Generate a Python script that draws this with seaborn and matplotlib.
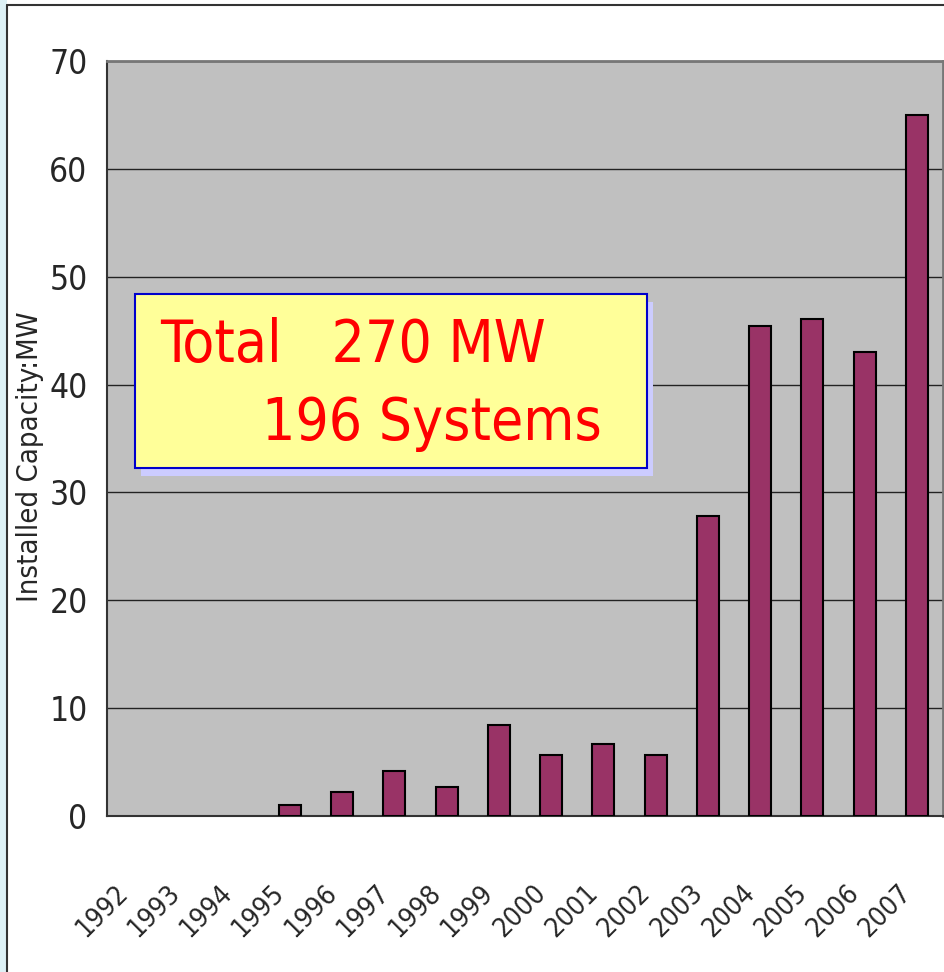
import numpy as np
import pandas as pd
import seaborn as sns
import matplotlib.pyplot as plt
from matplotlib.patches import Rectangle
from matplotlib.lines import Line2D

# data
years = ["1992", "1993", "1994", "1995", "1996", "1997", "1998", "1999",
         "2000", "2001", "2002", "2003", "2004", "2005", "2006", "2007"]
capacity_mw = [0, 0, 0, 1.0, 2.2, 4.2, 2.7, 8.4,
               5.7, 6.7, 5.7, 27.8, 45.4, 46.1, 43.0, 65.0]
y_ticks = [0, 10, 20, 30, 40, 50, 60, 70]
box_line1 = "Total   270 MW"
box_line2 = "196 Systems"
y_label = "Installed Capacity:MW"

df = pd.DataFrame({"year": years, "mw": capacity_mw})

sns.set_style("white")
plt.rcParams['font.family'] = ['DejaVu Sans']
plt.rcParams['font.stretch'] = 'condensed'

fig = plt.figure(figsize=(9.44, 9.72), dpi=100)
ax = fig.add_axes([107 / 944, 1 - 816 / 972, 836 / 944, 755 / 972])
ax.set_facecolor("#C0C0C0")

sns.barplot(data=df, x="year", y="mw", color="#993366", width=0.42,
            edgecolor="black", linewidth=1.5, saturation=1, ax=ax, zorder=3)
# empty years draw nothing in the original
for p in ax.patches:
    if p.get_height() == 0:
        p.set_visible(False)

ax.set_ylim(0, 70)
ax.set_xlim(-0.5, len(years) - 0.5)
ax.set_yticks(y_ticks)
ax.set_yticklabels([str(t) for t in y_ticks], fontsize=24)
ax.yaxis.grid(True, color="#222222", linewidth=1.0)
ax.set_axisbelow(True)
ax.set_xlabel("")
ax.set_ylabel("")

ax.set_xticks(range(len(years)))
ax.set_xticklabels(years, rotation=45, ha="right", fontsize=19.5)
ax.set_xticks(np.arange(0.5, len(years) - 0.5, 1), minor=True)
ax.tick_params(axis="x", which="major", length=0, pad=46)
ax.tick_params(axis="x", which="minor", direction="in", length=9, width=1, color="#333333")
ax.tick_params(axis="y", direction="in", length=6, width=1, color="#333333", pad=14)

for side in ["left", "bottom"]:
    ax.spines[side].set_color("#333333")
    ax.spines[side].set_linewidth(1.5)
for side in ["top", "right"]:
    ax.spines[side].set_color("#777777")
    ax.spines[side].set_linewidth(2)

fig.text(30 / 944, 1 - 457 / 972, y_label, rotation=90, ha="center", va="center",
         fontsize=21)

# annotation box with shadow
fig.patches.append(Rectangle((141 / 944, 1 - 476 / 972), 512 / 944, 174 / 972,
                             transform=fig.transFigure, facecolor="#CCCCFF",
                             edgecolor="none", zorder=5))
fig.patches.append(Rectangle((135 / 944, 1 - 468 / 972), 512 / 944, 174 / 972,
                             transform=fig.transFigure, facecolor="#FFFF99",
                             edgecolor="#0000CC", linewidth=1.5, zorder=6))
fig.text(160 / 944, 1 - 362 / 972, box_line1, color="red", fontsize=42,
         ha="left", va="baseline", zorder=7)
fig.text(262 / 944, 1 - 440 / 972, box_line2, color="red", fontsize=42,
         ha="left", va="baseline", zorder=7)

# slide frame on the left / top
fig.patches.append(Rectangle((0, 0), 7 / 944, 1, transform=fig.transFigure,
                             facecolor="#DDF1F6", edgecolor="none"))
fig.lines.append(Line2D([7 / 944, 7 / 944], [0, 1 - 5 / 972], transform=fig.transFigure,
                        color="#333333", linewidth=1.5))
fig.lines.append(Line2D([7 / 944, 1], [1 - 5 / 972, 1 - 5 / 972], transform=fig.transFigure,
                        color="#333333", linewidth=1.5))

fig.savefig("out.png", dpi=100)
